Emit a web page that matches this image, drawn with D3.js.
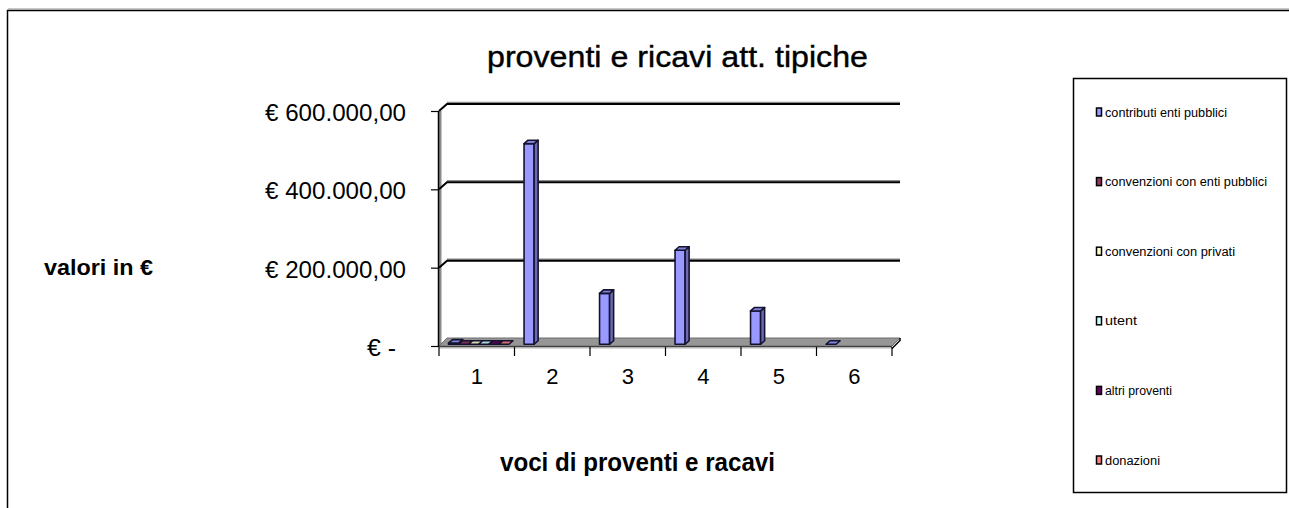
<!DOCTYPE html>
<html>
<head>
<meta charset="utf-8">
<script src="https://cdn.jsdelivr.net/npm/d3@7"></script>
<style>
  html, body { margin: 0; padding: 0; background: #ffffff; }
  svg { display: block; font-family: "Liberation Sans", Arial, sans-serif; }
</style>
</head>
<body>
<svg id="chart" width="1289" height="508"></svg>
<script>
// ---------------- data ----------------
const categories = ["1", "2", "3", "4", "5", "6"];
const seriesNames = [
  "contributi enti pubblici",
  "convenzioni con enti pubblici",
  "convenzioni con privati",
  "utent",
  "altri proventi",
  "donazioni"
];
const seriesColors = ["#9999FF", "#993366", "#FFFFCC", "#CCFFFF", "#660066", "#FF8080"];
const contributiEntiPubblici   = [3000, 512000, 130000, 240000, 85000, 0];
const convenzioniEntiPubblici  = [0, null, null, null, null, null];
const convenzioniPrivati       = [0, null, null, null, null, null];
const utenti                   = [0, null, null, null, null, null];
const altriProventi            = [0, null, null, null, null, null];
const donazioni                = [0, null, null, null, null, null];
const seriesValues = [contributiEntiPubblici, convenzioniEntiPubblici, convenzioniPrivati,
                      utenti, altriProventi, donazioni];
const yTickValues = [0, 200000, 400000, 600000];
const yTickLabels = ["€ -", "€ 200.000,00", "€ 400.000,00", "€ 600.000,00"];
const titleText = "proventi e ricavi att. tipiche";
const xTitleText = "voci di proventi e racavi";
const yTitleText = "valori in €";

// ---------------- layout ----------------
const svg = d3.select("#chart");
const DX = 8, DY = -7;          // depth of floor / walls
const x = d3.scaleBand().domain(categories).range([439, 892]).padding(0);
const y = d3.scaleLinear().domain([0, 600000]).range([346, 111]);
const xs = d3.scaleBand().domain(seriesNames).range([0, x.bandwidth()])
  .paddingInner(0).paddingOuter(0.75);

// outer chart border
svg.append("rect").attr("x", 7.5).attr("y", 10.5).attr("width", 1300).attr("height", 520)
  .attr("fill", "none").attr("stroke", "#000").attr("stroke-width", 1.5);
svg.append("line").attr("x1", 8).attr("x2", 1289).attr("y1", 9).attr("y2", 9)
  .attr("stroke", "#909090").attr("stroke-width", 1);

// title
svg.append("text").attr("x", 487).attr("y", 67)
  .attr("font-size", 30).attr("font-weight", "normal")
  .attr("stroke", "#000").attr("stroke-width", 0.4)
  .attr("textLength", 381).attr("lengthAdjust", "spacingAndGlyphs")
  .text(titleText);

// axis titles
svg.append("text").attr("x", 44).attr("y", 275)
  .attr("font-size", 22).attr("font-weight", "bold")
  .attr("textLength", 109).attr("lengthAdjust", "spacingAndGlyphs")
  .text(yTitleText);
svg.append("text").attr("x", 500).attr("y", 471)
  .attr("font-size", 25).attr("font-weight", "bold")
  .attr("textLength", 275).attr("lengthAdjust", "spacingAndGlyphs")
  .text(xTitleText);

// left wall edge
const x0 = x.range()[0], x1 = x.range()[1];
svg.append("rect").attr("x", x0).attr("y", y(600000)).attr("width", 2.5)
  .attr("height", y(0) - y(600000)).attr("fill", "#8c8c8c");

// gridlines (back wall + left wall)
const grid = svg.append("g");
yTickValues.filter(v => v > 0).forEach(v => {
  const yy = y(v);
  grid.append("line").attr("x1", x0 + DX).attr("x2", x1 + DX)
    .attr("y1", yy + DY - 1.5).attr("y2", yy + DY - 1.5)
    .attr("stroke", "#8c8c8c").attr("stroke-width", 1.5);
  grid.append("path")
    .attr("d", `M${x0},${yy} L${x0 + DX},${yy + DY} L${x1 + DX},${yy + DY}`)
    .attr("fill", "none").attr("stroke", "#000").attr("stroke-width", 2);
});

// floor
const y0 = y(0);
svg.append("path")
  .attr("d", `M${x0},${y0} L${x1},${y0} L${x1},${y0 + 2.5} L${x0},${y0 + 2.5} Z`)
  .attr("fill", "#b4b4b4");
svg.append("path")
  .attr("d", `M${x0},${y0} L${x0 + DX},${y0 + DY - 1} L${x1 + DX},${y0 + DY - 1} L${x1},${y0} Z`)
  .attr("fill", "#969696").attr("stroke", "#6e6e6e").attr("stroke-width", 1);
svg.append("path")
  .attr("d", `M${x1},${y0 + 2.5} L${x1 + DX},${y0 + DY + 1.5} L${x1 + DX},${y0 + DY - 1}`)
  .attr("fill", "none").attr("stroke", "#000").attr("stroke-width", 1.5);
svg.append("line").attr("x1", x0).attr("x2", x1).attr("y1", y0 + 0.5).attr("y2", y0 + 0.5)
  .attr("stroke", "#404040").attr("stroke-width", 1);

// y axis (front plane)
const yAxis = d3.axisLeft(y).tickValues(yTickValues).tickSize(8).tickSizeOuter(0)
  .tickPadding(25).tickFormat((d, i) => yTickLabels[i]);
const gy = svg.append("g").attr("transform", `translate(${x0},0)`).call(yAxis);
gy.select(".domain").attr("stroke", "#000").attr("stroke-width", 1.5)
  .attr("transform", "translate(-1,0)");
gy.selectAll(".tick line").attr("stroke", "#000").attr("stroke-width", 1.2);
gy.selectAll(".tick text")
  .attr("font-family", "Liberation Sans, Arial, sans-serif")
  .attr("font-size", 24).attr("fill", "#000")
  .attr("dy", "0.4em")
  .each(function (d) {
    const t = d3.select(this);
    if (d === 0) { t.attr("x", -43).attr("textLength", 29).attr("lengthAdjust", "spacingAndGlyphs"); }
    else { t.attr("textLength", 141).attr("lengthAdjust", "spacingAndGlyphs"); }
  });

// x axis: category labels + boundary ticks
const xAxis = d3.axisBottom(x).tickSize(0).tickPadding(22);
const gx = svg.append("g").attr("transform", `translate(0,${y0})`).call(xAxis);
gx.select(".domain").remove();
gx.selectAll(".tick text").attr("font-family", "Liberation Sans, Arial, sans-serif")
  .attr("font-size", 22).attr("fill", "#000").attr("dy", "0.71em");
const bounds = categories.map(c => x(c)).concat([x1]);
gx.selectAll(".bt").data(bounds).enter().append("line").attr("class", "bt")
  .attr("x1", d => d).attr("x2", d => d).attr("y1", 1).attr("y2", 10)
  .attr("stroke", "#000").attr("stroke-width", 1.2);

// bars (3D clustered)
const bd = 0.25, bdBack = 0.75;
const bars = svg.append("g");
const barData = [];
categories.forEach((c, ci) => {
  seriesNames.forEach((s, si) => {
    const v = seriesValues[si][ci];
    if (v !== null && v !== undefined) barData.push({ c, s, si, v });
  });
});
barData.forEach(d => {
  const fx = DX * bd, fy = DY * bd;
  const sx = DX * (bdBack - bd), sy = DY * (bdBack - bd);
  const bx0 = x(d.c) + xs(d.s) + fx, bx1 = bx0 + xs.bandwidth();
  const yb = y(0) + fy, yt = y(d.v) + fy;
  const col = d3.color(seriesColors[d.si]);
  const g = bars.append("g").attr("stroke", "#141430").attr("stroke-width", 1.6)
    .attr("stroke-linejoin", "round");
  if (yb - yt > 0.5) {
    g.append("rect").attr("x", bx0).attr("y", yt).attr("width", bx1 - bx0).attr("height", yb - yt)
      .attr("fill", col.formatHex());
    g.append("path")
      .attr("d", `M${bx1},${yb} L${bx1 + sx},${yb + sy} L${bx1 + sx},${yt + sy} L${bx1},${yt} Z`)
      .attr("fill", col.darker(1.0).formatHex());
  }
  g.append("path")
    .attr("d", `M${bx0},${yt} L${bx1},${yt} L${bx1 + sx},${yt + sy} L${bx0 + sx},${yt + sy} Z`)
    .attr("fill", col.darker(0.5).formatHex());
});

// legend
const lg = svg.append("g");
lg.append("rect").attr("x", 1073.5).attr("y", 78.5).attr("width", 213).attr("height", 414)
  .attr("fill", "#fff").attr("stroke", "#000").attr("stroke-width", 1.5);
const legendY = d3.scalePoint().domain(seriesNames).range([112, 460]);
const legendWidths = [122, 162, 130, 32, 67, 55];
seriesNames.forEach((s, i) => {
  const yy = legendY(s);
  lg.append("rect").attr("x", 1096.5).attr("y", yy - 4).attr("width", 5).attr("height", 8)
    .attr("fill", seriesColors[i]).attr("stroke", "#000").attr("stroke-width", 1.5);
  lg.append("text").attr("x", 1105).attr("y", yy + 4.5)
    .attr("font-size", 12).attr("fill", "#000")
    .attr("textLength", legendWidths[i]).attr("lengthAdjust", "spacingAndGlyphs")
    .text(s);
});
</script>
</body>
</html>
